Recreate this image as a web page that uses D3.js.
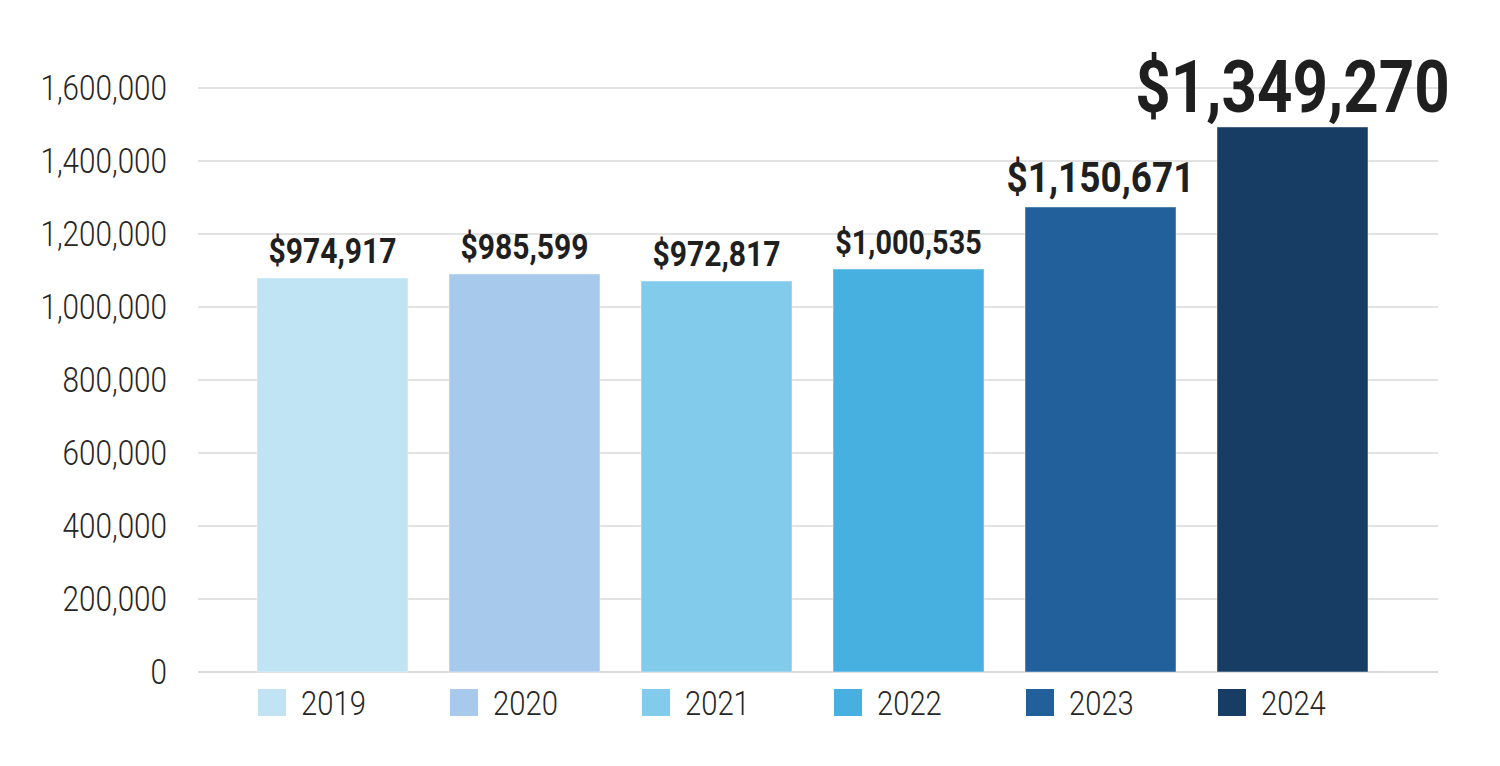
<!DOCTYPE html>
<html>
<head>
<meta charset="utf-8">
<script src="https://cdn.jsdelivr.net/npm/d3@7"></script>
<style>
  html, body { margin: 0; padding: 0; background: #ffffff; }
  svg { display: block; }
</style>
</head>
<body>
<svg id="chart" width="1500" height="766"></svg>
<script>
// ---- data ----
const years = ["2019", "2020", "2021", "2022", "2023", "2024"];
const barValues = [1079500, 1090400, 1071200, 1104100, 1274000, 1493200];
const valueLabels = ["$974,917", "$985,599", "$972,817", "$1,000,535", "$1,150,671", "$1,349,270"];
const colors = ["#c1e4f5", "#a7caec", "#83cbeb", "#47b0e0", "#22609c", "#183d64"];
const yTicks = [0, 200000, 400000, 600000, 800000, 1000000, 1200000, 1400000, 1600000];
const labelSizes = [35, 35, 35, 33.5, 43, 72];

// ---- layout ----
const svg = d3.select("#chart");
const gridX0 = 198, gridX1 = 1438;
const SX = 0.86; // condensed look

const x = d3.scaleBand()
  .domain(years)
  .range([236.5, 1388.5])
  .paddingInner(0.2135)
  .paddingOuter(0.1068);

const y = d3.scaleLinear()
  .domain([0, 1600000])
  .range([672, 88]);

// gridlines
const grid = svg.append("g");
grid.selectAll("line")
  .data(yTicks)
  .join("line")
  .attr("x1", gridX0)
  .attr("x2", gridX1)
  .attr("y1", d => y(d))
  .attr("y2", d => y(d))
  .attr("stroke", "#d9d9d9")
  .attr("stroke-width", d => d === 0 ? 2 : 1.5);

// y tick labels
const fmt = d3.format(",");
svg.append("g").selectAll("text")
  .data(yTicks)
  .join("text")
  .attr("transform", d => `translate(167,${y(d)}) scale(${SX},1)`)
  .attr("text-anchor", "end")
  .attr("dy", "0.35em")
  .attr("font-family", "Roboto, 'Noto Sans', sans-serif")
  .attr("font-weight", 300)
  .attr("font-size", 34.5)
  .attr("fill", "#262626")
  .text(d => fmt(d));

// bars
svg.append("g").selectAll("rect")
  .data(years)
  .join("rect")
  .attr("x", d => x(d))
  .attr("width", x.bandwidth())
  .attr("y", (d, i) => y(barValues[i]))
  .attr("height", (d, i) => y(0) - y(barValues[i]))
  .attr("fill", (d, i) => colors[i])
  .attr("stroke", "rgba(255,255,255,0.45)")
  .attr("stroke-width", 1);

// value labels
svg.append("g").selectAll("text")
  .data(years)
  .join("text")
  .attr("transform", (d, i) => `translate(${x(d) + x.bandwidth() / 2},${y(barValues[i]) - 15}) scale(${SX},1)`)
  .attr("text-anchor", "middle")
  .attr("font-family", "Roboto, 'Noto Sans', sans-serif")
  .attr("font-weight", 700)
  .attr("font-size", (d, i) => labelSizes[i])
  .attr("fill", "#1f1f1f")
  .text((d, i) => valueLabels[i]);

// legend
const leg = svg.append("g").selectAll("g")
  .data(years)
  .join("g")
  .attr("transform", d => `translate(${x(d) + 1},689)`);
leg.append("rect")
  .attr("width", 28)
  .attr("height", 27)
  .attr("fill", (d, i) => colors[i]);
leg.append("text")
  .attr("transform", `translate(43,26) scale(${SX},1)`)
  .attr("font-family", "Roboto, 'Noto Sans', sans-serif")
  .attr("font-weight", 300)
  .attr("font-size", 34)
  .attr("fill", "#262626")
  .text(d => d);
</script>
</body>
</html>
